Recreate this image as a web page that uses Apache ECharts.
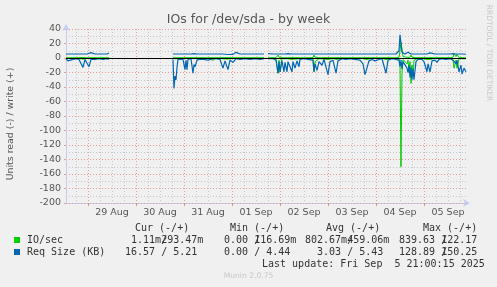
<!DOCTYPE html>
<html><head><meta charset="utf-8">
<script src="https://cdn.jsdelivr.net/npm/echarts@6/dist/echarts.min.js"></script>
<style>html,body{margin:0;padding:0;background:#f0f0f0}#c{width:497px;height:287px}</style>
</head><body><div id="c"></div>
<script>
// x axis: half-hour slots since 28 Aug 13:00 (slot 400 = 05 Sep 21:00)
const dayLabels = ['29 Aug','30 Aug','31 Aug','01 Sep','02 Sep','03 Sep','04 Sep','05 Sep'];
const yTicks = [-200,-180,-160,-140,-120,-100,-80,-60,-40,-20,0,20,40];

const slots = [
  0,2,4,7,10,13,15,17,19,21,23,25,27,29,33,37,41,43,44,
  107,108,109,110,111,112,114,117,119,120,121,122,125,127,128,129,131,134,138,142,144,147,150,154,157,159,162,164,167,170,172,174,179,184,189,194,198,200,
  202,204,207,210,212,213,214,216,218,219,221,222,224,226,227,229,231,233,234,238,242,247,248,249,251,253,256,258,262,264,267,270,272,276,280,284,289,294,297,299,301,303,306,309,311,313,316,318,320,322,326,330,
  333,334,335,336,337,339,341,342,343,344,345,346,347,348,350,352,354,356,358,361,362,364,366,369,371,373,376,380,384,387,388,390,391,393,395,396,398,400
];
// Req Size (KB), read (drawn below zero) and write
const reqRead = [
  1,4,1.5,2,1,2,3,13,2,3,12,2,1.5,2,1,2,1,1.5,null,
  2,42,25,30,13,2,1.5,2,16,3,16,2,1,21,9,12,3,1.5,2,3,1,1,1,2,14,4,16,3,6,1,2,2,1,2,1,2,1,null,
  1,2,1,3,21,5,19,4,19,6,19,5,12,19,5,14,4,12,2,1,2,3,19,8,17,5,10,2,23,5,3,21,4,1,2,1,2,3,8,23,21,4,2,4,6,2,1,2,21,3,1,2,
  3,12,3,15,5,3,14,20,10,27,12,30,15,30,5,2,3,2,5,19,8,19,4,3,6,2,1,2,1,3,5,8,3,19,10,22,14,19
];
const reqWrite = [
  5.5,5.5,5.5,5.5,5.5,5.5,5.5,5.5,5.5,5.5,6,7.5,7,5.5,5.5,5.5,5.5,7,null,
  5.5,5.5,5.5,5.5,5.5,5.5,5.5,5.5,5.5,5.5,5.5,5.5,5.5,5.5,6,7,5.5,5.5,5.5,5.5,4.5,5.5,5.5,5.5,5.5,5,4.8,4.8,5,7.8,5.5,5.5,5.5,5.5,5.5,5.5,5.5,null,
  6,5.5,5.5,5.5,5.5,5.5,5.5,5.5,5.5,5.5,5.5,6,5.5,5.5,5.5,5.5,5.5,5.5,6,5.5,5.5,5.5,5.5,5.5,5.5,5.5,5.5,5.5,5.5,5.5,5.5,5.5,6,5.5,5.5,5.5,5.5,5.5,5.5,5.5,5.5,5.5,5.5,5.5,5.5,5.5,5.5,7.5,5.5,5.5,5.5,5.5,
  10,32,20,8,5.5,5.5,5.5,8,6,5.5,5.5,5.5,8,5.5,5.5,5.5,5.5,5.5,5.5,5.5,5.5,7,5.5,5.5,5.5,5.5,5.5,5.5,5.5,6,7.5,5.5,5.5,5.5,5.5,5.5,5.5,5.2
];
// IO/sec, read (drawn below zero) and write
const ioRead = [
  0.5,1,0.5,0.6,0.5,0.7,0.8,1.5,0.6,0.7,1.2,0.6,0.5,0.6,0.5,0.6,0.5,0.5,null,
  0.6,1.5,1,1.2,0.8,0.6,0.5,0.6,1.2,0.6,1.2,0.6,0.5,1.5,0.8,1,0.6,0.5,0.6,0.7,0.5,3,0.5,0.6,1.2,0.7,1.3,0.6,0.8,0.5,0.6,0.6,0.5,0.6,0.5,0.6,0.5,null,
  0.6,0.7,0.5,1,21,3,19,1,2,1,2,1,1.5,2,1,1.5,0.8,1.2,0.6,0.5,0.6,1,19,5,3,1,1.2,0.6,2,0.8,0.7,2,0.7,0.5,0.6,0.5,0.6,0.7,1,2,2,0.8,0.6,0.7,0.9,0.6,0.5,0.6,2,0.7,0.5,0.6,
  1,10,150,20,2,1,8,3,20,5,35,10,25,3,1,0.6,0.7,0.6,0.8,2,1,2,0.7,0.6,0.8,0.5,0.5,0.6,0.5,2,14,3,14,1,0.8,1,0.8,1.1
];
const ioWrite = [
  0.3,0.4,0.3,0.4,0.3,0.5,0.4,0.6,0.4,0.3,0.5,0.4,0.3,0.4,0.3,0.4,0.3,0.4,null,
  0.4,0.5,0.4,0.4,0.4,0.4,0.4,0.4,0.5,0.4,0.5,0.4,0.4,0.5,0.4,0.4,0.4,0.4,0.4,0.4,0.4,0.4,0.4,0.4,0.5,0.4,0.5,0.4,0.4,0.4,0.4,0.4,0.4,0.4,0.4,0.4,0.4,null,
  0.4,0.4,0.4,0.5,4,1,2,0.5,0.5,0.4,0.5,0.4,0.5,0.5,0.4,0.5,0.4,0.4,0.4,0.4,0.4,0.5,4,1,0.6,0.4,0.4,0.4,0.5,0.4,0.4,0.5,0.4,0.4,0.4,0.4,0.4,0.4,0.4,0.5,0.5,0.4,0.4,0.4,0.4,0.4,0.4,0.4,0.5,0.4,0.4,0.4,
  1,10,22,12,2,0.5,1,3,2,1,4,1,3,1,0.5,0.4,0.4,0.4,0.4,0.5,0.4,0.5,0.4,0.4,0.4,0.4,0.4,0.4,0.4,1,6,2,5,0.5,0.4,0.4,0.4,0.3
];

const seriesNames = ['IO/sec', 'Req Size (KB)'];
const statHeads = ['Cur (-/+)', 'Min (-/+)', 'Avg (-/+)', 'Max (-/+)'];
const ioStats  = [['1.11m','293.47m'], ['0.00','116.69m'], ['802.67m','459.06m'], ['839.63','122.17']];
const reqStats = [['16.57','5.21'], ['0.00','4.44'], ['3.03','5.43'], ['128.89','150.25']];
const lastUpdate = 'Last update: Fri Sep  5 21:00:15 2025';

const NSLOT = 401;
const cats = Array.from({length: NSLOT}, (_, i) => String(i));
const isMidnight = i => (i - 22) % 48 === 0;
const isSix = i => (i - 10) % 12 === 0;
const isNoon = i => i >= 46 && (i - 46) % 48 === 0;

const pair = (arr, sign) => slots.map((s, k) => [s, arr[k] == null ? null : sign * arr[k]]);

const GREEN = '#00cc00', BLUE = '#0066b3';
const AXC = '#c6cdf3';
const SANS = 'DejaVu Sans', MONO = 'DejaVu Sans Mono';

function fmt(s) {
  if (s.endsWith('m')) return s.slice(0, -1).padStart(6) + 'm';
  return s.padStart(6) + ' ';
}
const colX = [119, 212, 305, 399];
const headX = [135, 230, 326, 423];
const CH = 6.02;

function txt(x, y, text, opts) {
  opts = opts || {};
  return {
    type: 'text', x: x, y: y, rotation: opts.rot || 0, silent: true,
    style: {
      text: text, fill: opts.color || '#333',
      font: (opts.size || 10) + 'px "' + (opts.family || MONO) + '"',
      fontSize: opts.size || 10, fontFamily: opts.family || MONO,
      align: opts.align || 'left', verticalAlign: 'middle',
      textAlign: opts.align || 'left', textVerticalAlign: 'middle'
    }
  };
}

const graphics = [];
graphics.push(txt(248.5, 20, 'IOs for /dev/sda - by week', {family: SANS, size: 12.5, color: '#555', align: 'center'}));
graphics.push(txt(11, 124, 'Units read (-) / write (+)', {family: SANS, size: 9.4, color: '#555', align: 'center', rot: Math.PI / 2}));
graphics.push(txt(489, 53, 'RRDTOOL / TOBI OETIKER', {family: SANS, size: 7.5, color: '#c8c8c8', align: 'center', rot: -Math.PI / 2}));
statHeads.forEach((h, j) => graphics.push(txt(headX[j], 228, h)));
[[ioStats, 240, GREEN], [reqStats, 252, BLUE]].forEach(([st, y, col], r) => {
  graphics.push({type: 'rect', silent: true, shape: {x: 14, y: y - 3, width: 6, height: 6}, style: {fill: col}});
  graphics.push(txt(27, y, seriesNames[r]));
  st.forEach((p, j) => {
    graphics.push(txt(colX[j], y, fmt(p[0]) + fmt(p[1])));
    graphics.push(txt(colX[j] + 7 * CH, y, '/'));
  });
});
graphics.push(txt(262, 264, lastUpdate));
graphics.push(txt(248.5, 276, 'Munin 2.0.75', {family: SANS, size: 7.6, color: '#c8c8c8', align: 'center'}));

const lineBase = {type: 'line', showSymbol: false, symbol: 'none', connectNulls: false, animation: false, silent: true, xAxisIndex: 0, yAxisIndex: 0};

const option = {
  backgroundColor: '#f0f0f0',
  animation: false,
  grid: {left: 66, right: 31, top: 29, bottom: 84, containLabel: false},
  xAxis: [
    {
      type: 'category', data: cats, boundaryGap: false, position: 'bottom',
      axisLine: {onZero: false, lineStyle: {color: AXC, width: 1}, symbol: ['none', 'arrow'], symbolSize: [6, 7], symbolOffset: [0, 4]},
      axisTick: {show: true, interval: (i) => isMidnight(i), length: 3, lineStyle: {color: '#e58a8a'}},
      axisLabel: {interval: (i) => isNoon(i), formatter: (v, i) => dayLabels[(i - 46) / 48], color: '#555', fontFamily: SANS, fontSize: 9.5, margin: 5},
      splitLine: {show: true, interval: (i) => isSix(i) && !isMidnight(i), lineStyle: {color: '#c8c8c8', type: [1, 2]}}
    },
    {
      type: 'category', data: cats, boundaryGap: false, z: 1,
      axisLine: {show: false, onZero: false}, axisTick: {show: false}, axisLabel: {show: false},
      splitLine: {show: true, interval: (i) => isMidnight(i), lineStyle: {color: '#eb9a9a', type: [1, 2]}}
    }
  ],
  yAxis: [
    {
      type: 'value', min: yTicks[0], max: yTicks[yTicks.length - 1], interval: 20, z: 1,
      axisLine: {show: true, lineStyle: {color: AXC, width: 1}, symbol: ['none', 'arrow'], symbolSize: [6, 7], symbolOffset: [0, 5]},
      axisTick: {show: true, length: 2, lineStyle: {color: '#eb9a9a'}},
      axisLabel: {color: '#555', fontFamily: SANS, fontSize: 9.5, margin: 5},
      splitLine: {show: true, lineStyle: {color: '#eb9a9a', type: [1, 2]}}
    },
    {
      type: 'value', min: yTicks[0], max: yTicks[yTicks.length - 1], interval: 10,
      axisLine: {show: false}, axisTick: {show: false}, axisLabel: {show: false},
      splitLine: {show: true, lineStyle: {color: '#c8c8c8', type: [1, 2]}}
    }
  ],
  series: [
    Object.assign({}, lineBase, {name: 'IO/sec write', data: pair(ioWrite, 1), lineStyle: {color: GREEN, width: 1}, itemStyle: {color: GREEN},
      markLine: {silent: true, symbol: ['none', 'none'], label: {show: false}, animation: false,
        lineStyle: {color: '#000', width: 1, type: 'solid'}, data: [{yAxis: 0}]}}),
    Object.assign({}, lineBase, {name: 'IO/sec read', data: pair(ioRead, -1), lineStyle: {color: GREEN, width: 1}, itemStyle: {color: GREEN}}),
    Object.assign({}, lineBase, {name: 'Req write', data: pair(reqWrite, 1), lineStyle: {color: BLUE, width: 1.2}, itemStyle: {color: BLUE}}),
    Object.assign({}, lineBase, {name: 'Req read', data: pair(reqRead, -1), lineStyle: {color: BLUE, width: 1.2}, itemStyle: {color: BLUE}})
  ],
  graphic: graphics
};

const chart = echarts.init(document.getElementById('c'), null, {renderer: 'canvas', width: 497, height: 287});
chart.setOption(option);
</script>
</body></html>
